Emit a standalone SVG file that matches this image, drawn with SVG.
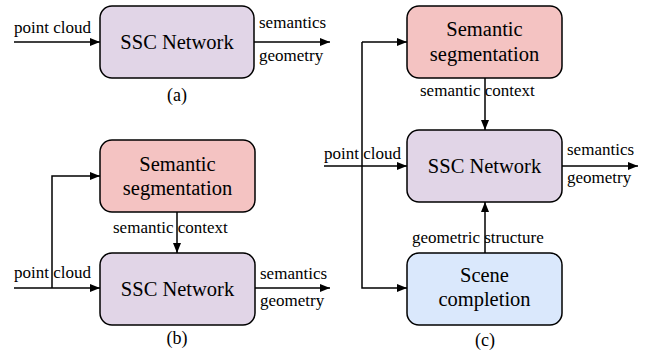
<svg xmlns="http://www.w3.org/2000/svg" width="649" height="351" viewBox="0 0 649 351">
<style>
.box{stroke:#000;stroke-width:1.5}
.seg{fill:#f4c3c2}
.net{fill:#e1d5e7}
.comp{fill:#dae8fc}
.ln{fill:none;stroke:#000;stroke-width:1.5}
</style>
<defs>
<marker id="ah" viewBox="0 0 10 8" refX="10" refY="4" markerWidth="10" markerHeight="8" markerUnits="userSpaceOnUse" orient="auto">
<path d="M0,0 L10,4 L0,8 Z" fill="#000"/>
</marker>
</defs>
<g id="connectors">
<path class="ln" d="M14,42 H100" marker-end="url(#ah)"/>
<path class="ln" d="M254,42 H330" marker-end="url(#ah)"/>
<path class="ln" d="M14,288 H100" marker-end="url(#ah)"/>
<path class="ln" d="M52,288 V176 H100" marker-end="url(#ah)"/>
<path class="ln" d="M177,212 V253" marker-end="url(#ah)"/>
<path class="ln" d="M255,288 H330" marker-end="url(#ah)"/>
<path class="ln" d="M324,166 H407" marker-end="url(#ah)"/>
<path class="ln" d="M362,42 H407" marker-end="url(#ah)"/>
<path class="ln" d="M362,42 V288 H407" marker-end="url(#ah)"/>
<path class="ln" d="M485,78 V130" marker-end="url(#ah)"/>
<path class="ln" d="M485,253 V202" marker-end="url(#ah)"/>
<path class="ln" d="M562,166 H638" marker-end="url(#ah)"/>
</g>
<g id="a-ssc">
<rect class="box net" x="100" y="6" width="154" height="72" rx="12"/>
<text x="177" y="49" font-family="Liberation Serif" style="font-family:'Liberation Serif',serif" font-size="20.5" text-anchor="middle">SSC Network</text>
</g>
<g id="a-labels">
<text x="14" y="33" font-family="Liberation Serif" style="font-family:'Liberation Serif',serif" font-size="17">point cloud</text>
<text x="259" y="28" font-family="Liberation Serif" style="font-family:'Liberation Serif',serif" font-size="17">semantics</text>
<text x="259" y="61" font-family="Liberation Serif" style="font-family:'Liberation Serif',serif" font-size="17">geometry</text>
<text x="177" y="101" font-family="Liberation Serif" style="font-family:'Liberation Serif',serif" font-size="18" text-anchor="middle">(a)</text>
</g>
<g id="b-seg">
<rect class="box seg" x="100" y="140" width="155" height="72" rx="12"/>
<text x="177.5" y="171" font-family="Liberation Serif" style="font-family:'Liberation Serif',serif" font-size="20.5" text-anchor="middle">Semantic</text>
<text x="177.5" y="195" font-family="Liberation Serif" style="font-family:'Liberation Serif',serif" font-size="20.5" text-anchor="middle">segmentation</text>
</g>
<g id="b-ssc">
<rect class="box net" x="100" y="253" width="155" height="72" rx="12"/>
<text x="177.5" y="296" font-family="Liberation Serif" style="font-family:'Liberation Serif',serif" font-size="20.5" text-anchor="middle">SSC Network</text>
</g>
<g id="b-labels">
<text x="14" y="278" font-family="Liberation Serif" style="font-family:'Liberation Serif',serif" font-size="17">point cloud</text>
<text x="113" y="233" font-family="Liberation Serif" style="font-family:'Liberation Serif',serif" font-size="17">semantic context</text>
<text x="260" y="279" font-family="Liberation Serif" style="font-family:'Liberation Serif',serif" font-size="17">semantics</text>
<text x="260" y="306" font-family="Liberation Serif" style="font-family:'Liberation Serif',serif" font-size="17">geometry</text>
<text x="177" y="344" font-family="Liberation Serif" style="font-family:'Liberation Serif',serif" font-size="18" text-anchor="middle">(b)</text>
</g>
<g id="c-seg">
<rect class="box seg" x="407" y="6" width="155" height="72" rx="12"/>
<text x="484.5" y="36" font-family="Liberation Serif" style="font-family:'Liberation Serif',serif" font-size="20.5" text-anchor="middle">Semantic</text>
<text x="484.5" y="61" font-family="Liberation Serif" style="font-family:'Liberation Serif',serif" font-size="20.5" text-anchor="middle">segmentation</text>
</g>
<g id="c-ssc">
<rect class="box net" x="407" y="130" width="155" height="72" rx="12"/>
<text x="484.5" y="173" font-family="Liberation Serif" style="font-family:'Liberation Serif',serif" font-size="20.5" text-anchor="middle">SSC Network</text>
</g>
<g id="c-comp">
<rect class="box comp" x="407" y="253" width="155" height="72" rx="12"/>
<text x="484.5" y="282" font-family="Liberation Serif" style="font-family:'Liberation Serif',serif" font-size="20.5" text-anchor="middle">Scene</text>
<text x="484.5" y="306" font-family="Liberation Serif" style="font-family:'Liberation Serif',serif" font-size="20.5" text-anchor="middle">completion</text>
</g>
<g id="c-labels">
<text x="324" y="159" font-family="Liberation Serif" style="font-family:'Liberation Serif',serif" font-size="17">point cloud</text>
<text x="420" y="96" font-family="Liberation Serif" style="font-family:'Liberation Serif',serif" font-size="17">semantic context</text>
<text x="412" y="243" font-family="Liberation Serif" style="font-family:'Liberation Serif',serif" font-size="17">geometric structure</text>
<text x="567" y="155" font-family="Liberation Serif" style="font-family:'Liberation Serif',serif" font-size="17">semantics</text>
<text x="567" y="183" font-family="Liberation Serif" style="font-family:'Liberation Serif',serif" font-size="17">geometry</text>
<text x="485" y="346" font-family="Liberation Serif" style="font-family:'Liberation Serif',serif" font-size="18" text-anchor="middle">(c)</text>
</g>
</svg>
